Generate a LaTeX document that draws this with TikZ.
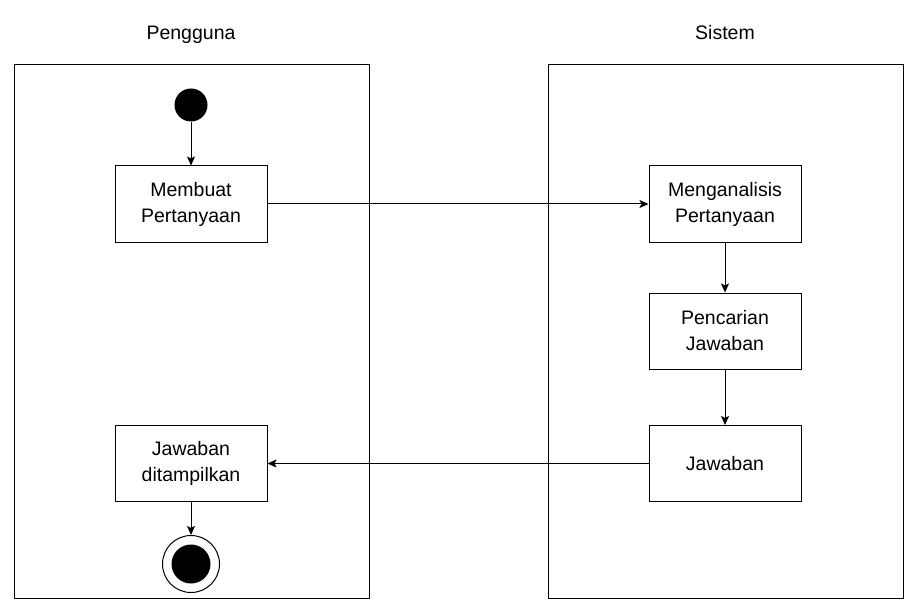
\documentclass[tikz,border=0pt]{standalone}
\usepackage{fontspec}
\setmainfont{Liberation Sans}
\usetikzlibrary{arrows.meta}
\begin{document}
\begin{tikzpicture}[x=1pt,y=-1pt,
  lane/.style={draw,line width=1pt},
  act/.style={draw,line width=1pt,minimum width=152pt,minimum height=76pt,align=center,font=\fontsize{19.5}{26}\selectfont,inner sep=0pt},
  title/.style={font=\fontsize{19.5}{26}\selectfont,anchor=base},
  flow/.style={line width=1pt,-{Stealth[length=9pt,width=8pt,inset=2pt]}}]
\useasboundingbox (0,0) rectangle (917,612);
\draw[lane] (14,65) rectangle (369,598);
\draw[lane] (548,65) rectangle (903,598);
\node[title] (t1) at (191,40) {Pengguna};
\node[title] (t2) at (725,40) {Sistem};
\node[circle,fill=black,minimum size=33pt,inner sep=0pt] (start) at (191,105) {};
\node[act] (a1) at (191,204) {Membuat\\Pertanyaan};
\node[act] (b1) at (725,204) {Menganalisis\\Pertanyaan};
\node[act] (b2) at (725,331) {Pencarian\\Jawaban};
\node[act] (b3) at (725,463.5) {Jawaban};
\node[act] (a2) at (191,463.5) {Jawaban\\ditampilkan};
\node[circle,draw,line width=1pt,minimum size=57pt,inner sep=0pt] (end) at (191,564) {};
\node[circle,fill=black,minimum size=39pt,inner sep=0pt] (endi) at (191,564) {};
\draw[flow] (start) -- (a1);
\draw[flow] (a1) -- (b1);
\draw[flow] (b1) -- (b2);
\draw[flow] (b2) -- (b3);
\draw[flow] (b3) -- (a2);
\draw[flow] (a2) -- (end);
\end{tikzpicture}
\end{document}
